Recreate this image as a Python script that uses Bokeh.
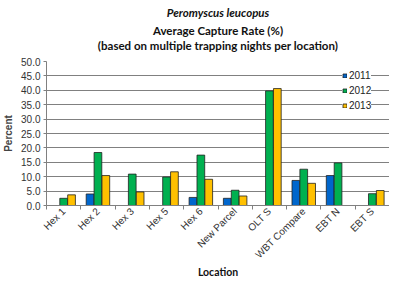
import math
from bokeh.plotting import figure
from bokeh.models import (ColumnDataSource, Range1d, LinearAxis, FixedTicker, Legend,
                          LegendItem, Title, CustomJSTickFormatter, NumeralTickFormatter)
from bokeh.embed import file_html
from bokeh.resources import INLINE

nan = float("nan")
locations = ["Hex 1", "Hex 2", "Hex 3", "Hex 5", "Hex 6", "New Parcel", "OLT S",
             "WBT Compare", "EBT N", "EBT S"]
years = ["2011", "2012", "2013"]
y2011 = [nan, 4.0, nan, nan, 2.8, 2.5, nan, 8.7, 10.4, nan]
y2012 = [2.5, 18.4, 10.9, 9.9, 17.5, 5.3, 39.8, 12.6, 14.8, 4.1]
y2013 = [3.7, 10.4, 4.7, 11.7, 9.1, 3.3, 40.6, 7.7, nan, 5.2]
y_ticks = [0, 5, 10, 15, 20, 25, 30, 35, 40, 45, 50]

colors = ["#0066CC", "#00B050", "#FFC000"]
series = [y2011, y2012, y2013]
offsets = [-0.23, 0.0, 0.23]

p = figure(width=389, height=277, output_backend="svg", toolbar_location=None,
           x_axis_type=None, x_range=Range1d(0, 10), y_range=Range1d(0, 50),
           min_border_left=42, min_border_right=0, min_border_top=0, min_border_bottom=0)
p.outline_line_color = None

TF = "Lato"
# spacer closest to the frame
p.add_layout(Title(text=" ", text_font_size="4px", standoff=3), "above")
p.add_layout(Title(text="(based on multiple trapping nights per location)", align="center",
                   text_font=TF, text_font_size="11.5px", text_font_style="bold",
                   standoff=0, text_color="#111111"), "above")
p.add_layout(Title(text="Average Capture Rate (%)", align="center",
                   text_font=TF, text_font_size="11.5px", text_font_style="bold",
                   standoff=0, text_color="#111111"), "above")
p.add_layout(Title(text="Peromyscus leucopus", align="center",
                   text_font=TF, text_font_size="11.5px", text_font_style="bold italic",
                   standoff=6, text_color="#111111"), "above")

renderers = []
for name, vals, col, off in zip(years, series, colors, offsets):
    src = ColumnDataSource(dict(x=[i + 0.5 + off for i in range(len(locations))], top=vals))
    r = p.vbar(x="x", top="top", bottom=0, width=0.225, source=src,
               fill_color=col, line_color="#222222", line_width=0.8)
    renderers.append(r)

# y axis
ya = p.yaxis[0]
ya.ticker = FixedTicker(ticks=y_ticks, minor_ticks=[])
ya.formatter = NumeralTickFormatter(format="0.0")
ya.axis_label = "Percent"
ya.axis_label_text_font = "Liberation Sans"
ya.axis_label_text_font_size = "10px"
ya.axis_label_text_font_style = "bold"
ya.axis_label_standoff = 4
ya.major_label_text_font = "Liberation Sans"
ya.major_label_text_font_size = "10px"
ya.major_label_text_color = "#333333"
ya.major_label_standoff = 3
ya.major_tick_out = 3
ya.major_tick_in = 0
ya.axis_line_color = "#808080"
ya.major_tick_line_color = "#808080"
p.ygrid.grid_line_color = "#808080"

# x axis: boundary ticks
xa1 = LinearAxis(ticker=FixedTicker(ticks=list(range(11)), minor_ticks=[]),
                 formatter=CustomJSTickFormatter(code="return ''"))
xa1.major_label_text_font_size = "0px"
xa1.major_label_standoff = 0
xa1.major_tick_out = 4
xa1.major_tick_in = 0
xa1.axis_line_color = "#808080"
xa1.major_tick_line_color = "#808080"
p.add_layout(xa1, "below")

# x axis: category labels
xa2 = LinearAxis(ticker=FixedTicker(ticks=[i + 0.5 for i in range(len(locations))], minor_ticks=[]),
                 formatter=CustomJSTickFormatter(args=dict(labels=locations),
                                                 code="return labels[Math.floor(tick)];"))
xa2.major_label_orientation = math.pi / 4
xa2.major_label_text_font = "Liberation Sans"
xa2.major_label_text_font_size = "10px"
xa2.major_label_text_color = "#333333"
xa2.major_label_standoff = 0
xa2.major_tick_out = 0
xa2.major_tick_in = 0
xa2.major_tick_line_color = None
xa2.axis_line_color = None
p.add_layout(xa2, "below")

p.add_layout(Title(text="Location", align="center", vertical_align="top",
                   text_font=TF, text_font_size="10.5px", text_line_height=0.7,
                   text_font_style="bold", text_color="#111111", standoff=-4), "below")

legend = Legend(items=[LegendItem(label=y, renderers=[r]) for y, r in zip(years, renderers)],
                location=(296, 94))
legend.label_text_font = "Liberation Sans"
legend.label_text_font_size = "10px"
legend.label_text_color = "#222222"
legend.glyph_width = 5
legend.glyph_height = 5
legend.label_height = 12
legend.spacing = 3
legend.padding = 4
legend.label_standoff = 2
legend.border_line_color = None
legend.background_fill_color = "white"
legend.background_fill_alpha = 1
legend.margin = 0
p.add_layout(legend)

open("out.html", "w").write(file_html(p, INLINE))
